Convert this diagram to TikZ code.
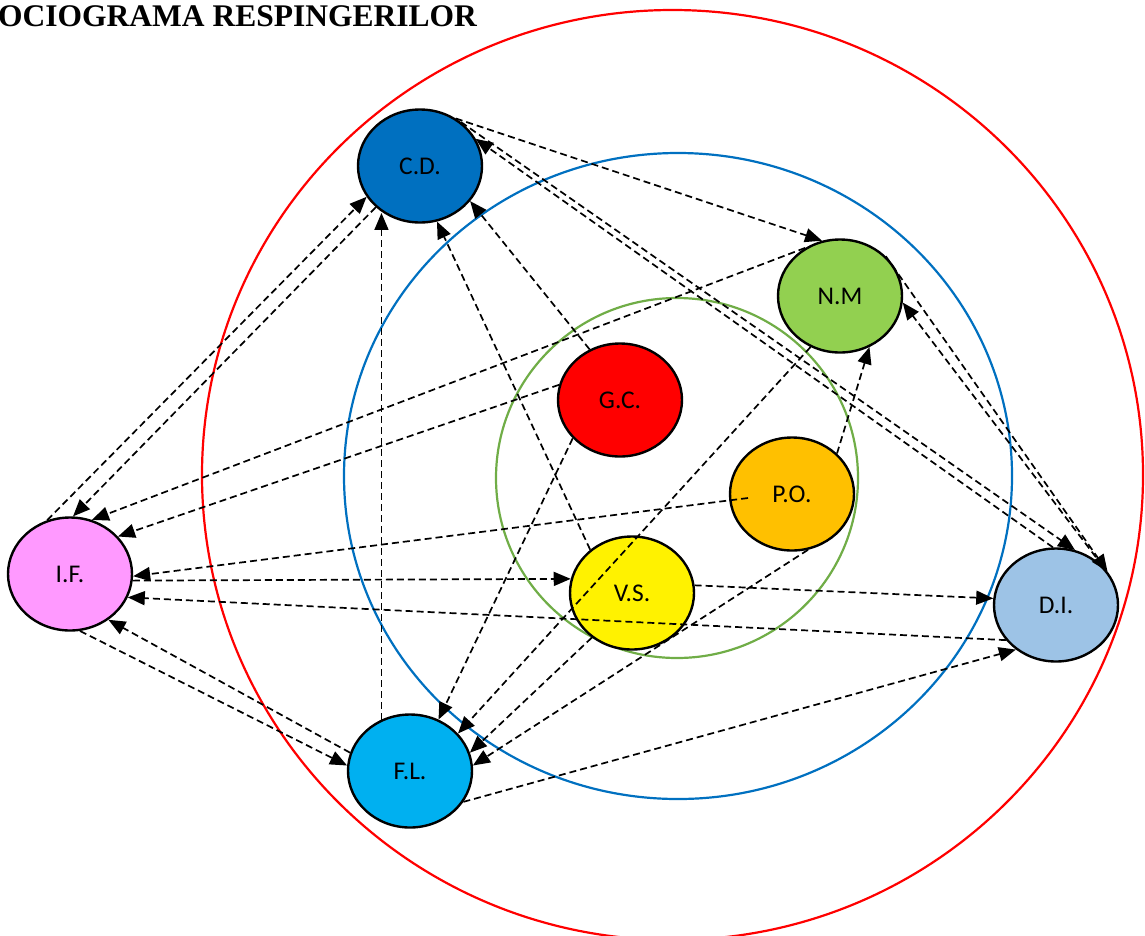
\documentclass[tikz,border=0pt]{standalone}
\usepackage{fontspec}
\setmainfont{Liberation Serif}
\newfontfamily\lblfont{Carlito}
\usetikzlibrary{shapes.geometric,arrows.meta}
\definecolor{cdblue}{HTML}{0070C0}
\definecolor{nmgreen}{HTML}{92D050}
\definecolor{poorange}{HTML}{FFC000}
\definecolor{ifpink}{HTML}{FF99FF}
\definecolor{flblue}{HTML}{00B0F0}
\definecolor{diblue}{HTML}{9DC3E6}
\definecolor{ringblue}{HTML}{0070C0}
\definecolor{ringgreen}{HTML}{70AD47}
\tikzset{
	member/.style={shape=ellipse, draw=black, line width=2.4pt, minimum width=124pt, minimum height=113pt, inner sep=0pt, font=\lblfont\fontsize{25.5}{30}\selectfont},
	reject/.style={-{Triangle[length=17pt,width=14pt]}, line width=1.7pt, dash pattern=on 7pt off 4pt},
	ring/.style={line width=2.2pt},
}
\begin{document}
\begin{tikzpicture}[x=1pt,y=-1pt]
	\clip (0,0) rectangle (1145,935);
	% Rings, persons and rejections:
	\draw[ring, red] (672.5,475) ellipse [x radius=470.5, y radius=465];
	\draw[ring, ringblue] (678,476) ellipse [x radius=334, y radius=323];
	\draw[ring, ringgreen] (677,478) ellipse [x radius=181, y radius=180];
	\node[anchor=base west, inner sep=0pt, font=\bfseries\fontsize{31.5}{36}\selectfont] (title) at (-2,26) {OCIOGRAMA RESPINGERILOR};
	\node[member, fill=cdblue] (CD) at (420,166) {C.D.};
	\node[member, fill=nmgreen] (NM) at (840,296) {N.M};
	\node[member, fill=red] (GC) at (620,400) {G.C.};
	\node[member, fill=poorange] (PO) at (792,494) {P.O.};
	\node[member, fill=yellow] (VS) at (632,593) {V.S.};
	\node[member, fill=ifpink] (IF) at (70,574) {I.F.};
	\node[member, fill=flblue] (FL) at (410,771) {F.L.};
	\node[member, fill=diblue] (DI) at (1056,605) {D.I.};
	\draw[reject] (CD.53) -- (NM.108);
	\draw[reject] (CD.47) -- (DI.71);
	\draw[reject] (DI.93) -- (CD.26);
	\draw[reject] (GC.121) -- (CD.-35);
	\draw[reject] (VS.134) -- (CD.-73);
	\draw[reject] (FL.119) -- (FL.119 |- CD.-128);
	\draw[reject] (IF.113) -- (CD.-150);
	\draw[reject] (CD.-137) -- (IF.87);
	\draw[reject] (NM.126) -- (IF.68);
	\draw[reject] (NM.-120) -- (FL.38);
	\draw[reject] (PO.42) -- (NM.-60);
	\draw[reject] (DI.40) -- (NM.-6);
	\draw[reject] (NM.41) -- (DI.33);
	\draw[reject] (GC.166) -- (IF.38);
	\draw[reject] (GC.-141) -- (FL.61);
	\draw[reject] ([xshift=-44pt,yshift=-4pt]PO.center) -- (IF.-2);
	\draw[reject] (PO.-74) -- (FL.5);
	\draw[reject] (IF.-6) -- (VS.167);
	\draw[reject] (VS.7) -- (DI.174);
	\draw[reject] (VS.-132) -- (FL.17);
	\draw[reject] (DI.-145) -- (IF.-22);
	\draw[reject] (FL.-30) -- (DI.-132);
	\draw[reject] (IF.-80) -- (FL.175);
	\draw[reject] (FL.163) -- (IF.-50);
\end{tikzpicture}
\end{document}
